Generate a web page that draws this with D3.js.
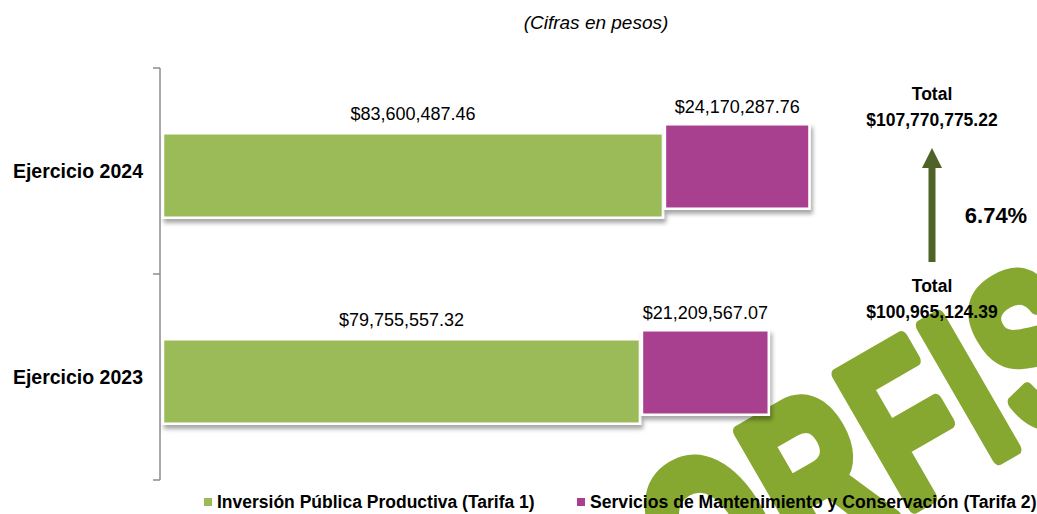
<!DOCTYPE html>
<html lang="es">
<head>
<meta charset="utf-8">
<title>Ejercicio 2024 vs 2023</title>
<script src="https://cdn.jsdelivr.net/npm/d3@7"></script>
<style>
  body { margin: 0; background: #fff; }
  text { font-family: "Liberation Sans", Arial, sans-serif; fill: #000; }
</style>
</head>
<body>
<svg id="chart" width="1037" height="514"></svg>
<script>
// data
var years = ["Ejercicio 2024", "Ejercicio 2023"];
var tarifa1 = [83600487.46, 79755557.32];
var tarifa2 = [24170287.76, 21209567.07];
var totals = [107770775.22, 100965124.39];
var seriesNames = ["Inversión Pública Productiva (Tarifa 1)", "Servicios de Mantenimiento y Conservación (Tarifa 2)"];
var colors = ["#9bbb59", "#a9408f"];

var svg = d3.select("#chart");
var money = d3.format("$,.2f");

// shadow for the bars
var defs = svg.append("defs");
var f = defs.append("filter").attr("id", "shadow")
  .attr("x", "-5%").attr("y", "-10%").attr("width", "115%").attr("height", "130%");
f.append("feDropShadow").attr("dx", 2).attr("dy", 4).attr("stdDeviation", 2)
  .attr("flood-color", "#000").attr("flood-opacity", 0.35);

// watermark in the corner
svg.append("text")
  .attr("transform", "translate(700,630) rotate(-30) scale(0.7,1.03)")
  .style("font-family", "'Liberation Sans', Arial, sans-serif")
  .style("font-size", "214px").style("font-weight", "bold")
  .style("letter-spacing", "8px")
  .style("fill", "#86a830").style("stroke", "#86a830").style("stroke-width", 14)
  .style("stroke-linejoin", "round")
  .text("ORFIS");

var x = d3.scaleLinear().domain([0, 100000000]).range([163, 761]);
var y = d3.scaleBand().domain(years).range([68, 480])
  .paddingInner(0.59).paddingOuter(0.295);

// axis on the left
var axis = svg.append("g").attr("transform", "translate(160,0)")
  .call(d3.axisLeft(y).tickSize(0).tickFormat(""));
axis.select(".domain").remove();
var bounds = [68, 68 + y.step(), 480];
axis.append("line").attr("x1", 0).attr("x2", 0).attr("y1", 68).attr("y2", 480)
  .attr("stroke", "#8c8c8c").attr("stroke-width", 1.5);
axis.selectAll(".bnd").data(bounds).enter().append("line")
  .attr("x1", -7).attr("x2", 0)
  .attr("y1", function(d) { return d; }).attr("y2", function(d) { return d; })
  .attr("stroke", "#8c8c8c").attr("stroke-width", 1.5);

// category labels
svg.selectAll(".cat").data(years).enter().append("text")
  .attr("x", 143).attr("y", function(d) { return y(d) + y.bandwidth() / 2 + 7; })
  .attr("text-anchor", "end")
  .style("font-size", "19.5px").style("font-weight", "bold")
  .text(function(d) { return d; });

// green bars (shifted down), purple bars (shifted up)
var rows = years.map(function(d, i) {
  return { year: d, t1: tarifa1[i], t2: tarifa2[i], total: totals[i] };
});

svg.selectAll(".b1").data(rows).enter().append("rect")
  .attr("x", x(0))
  .attr("y", function(d) { return y(d.year) + 4.5; })
  .attr("width", function(d) { return x(d.t1) - x(0); })
  .attr("height", y.bandwidth())
  .attr("fill", colors[0]).attr("stroke", "#fff").attr("stroke-width", 2.5)
  .attr("filter", "url(#shadow)");

svg.selectAll(".b2").data(rows).enter().append("rect")
  .attr("x", function(d) { return x(d.t1) + 2; })
  .attr("y", function(d) { return y(d.year) - 4.5; })
  .attr("width", function(d) { return x(d.t2) - x(0); })
  .attr("height", y.bandwidth())
  .attr("fill", colors[1]).attr("stroke", "#fff").attr("stroke-width", 2.5)
  .attr("filter", "url(#shadow)");

// value labels
svg.selectAll(".l1").data(rows).enter().append("text")
  .attr("x", function(d) { return (x(0) + x(d.t1)) / 2; })
  .attr("y", function(d) { return y(d.year) + 4.5 - 13; })
  .attr("text-anchor", "middle").style("font-size", "18px")
  .text(function(d) { return money(d.t1); });

svg.selectAll(".l2").data(rows).enter().append("text")
  .attr("x", function(d) { return x(d.t1) + 2 + (x(d.t2) - x(0)) / 2; })
  .attr("y", function(d) { return y(d.year) - 4.5 - 11; })
  .attr("text-anchor", "middle").style("font-size", "18px")
  .text(function(d) { return money(d.t2); });

// totals on the right
var totY = [100, 292];
rows.forEach(function(d, i) {
  svg.append("text").attr("x", 932).attr("y", totY[i])
    .attr("text-anchor", "middle").style("font-size", "17.5px").style("font-weight", "bold")
    .text("Total");
  svg.append("text").attr("x", 932).attr("y", totY[i] + 26)
    .attr("text-anchor", "middle").style("font-size", "17.5px").style("font-weight", "bold")
    .text(money(d.total));
});

// growth arrow
var arrowCol = "#4f6228";
svg.append("rect").attr("x", 928.5).attr("y", 166).attr("width", 7).attr("height", 96)
  .attr("fill", arrowCol);
svg.append("path").attr("d", "M922,168 L932,148 L942,168 Z").attr("fill", arrowCol);

var growth = totals[0] / totals[1] - 1;
svg.append("text").attr("x", 996).attr("y", 223)
  .attr("text-anchor", "middle").style("font-size", "22px").style("font-weight", "bold")
  .text(d3.format(".2%")(growth));

// title
svg.append("text").attr("x", 596).attr("y", 29)
  .attr("text-anchor", "middle").style("font-size", "19px").style("font-style", "italic")
  .text("(Cifras en pesos)");

// legend
var legX = [204, 577];
var legSize = [17.5, 17.6];
seriesNames.forEach(function(n, i) {
  svg.append("rect").attr("x", legX[i]).attr("y", 498).attr("width", 8).attr("height", 8)
    .attr("fill", colors[i]);
  svg.append("text").attr("x", legX[i] + 13).attr("y", 508)
    .style("font-size", legSize[i] + "px").style("font-weight", "bold")
    .text(n);
});
</script>
</body>
</html>
